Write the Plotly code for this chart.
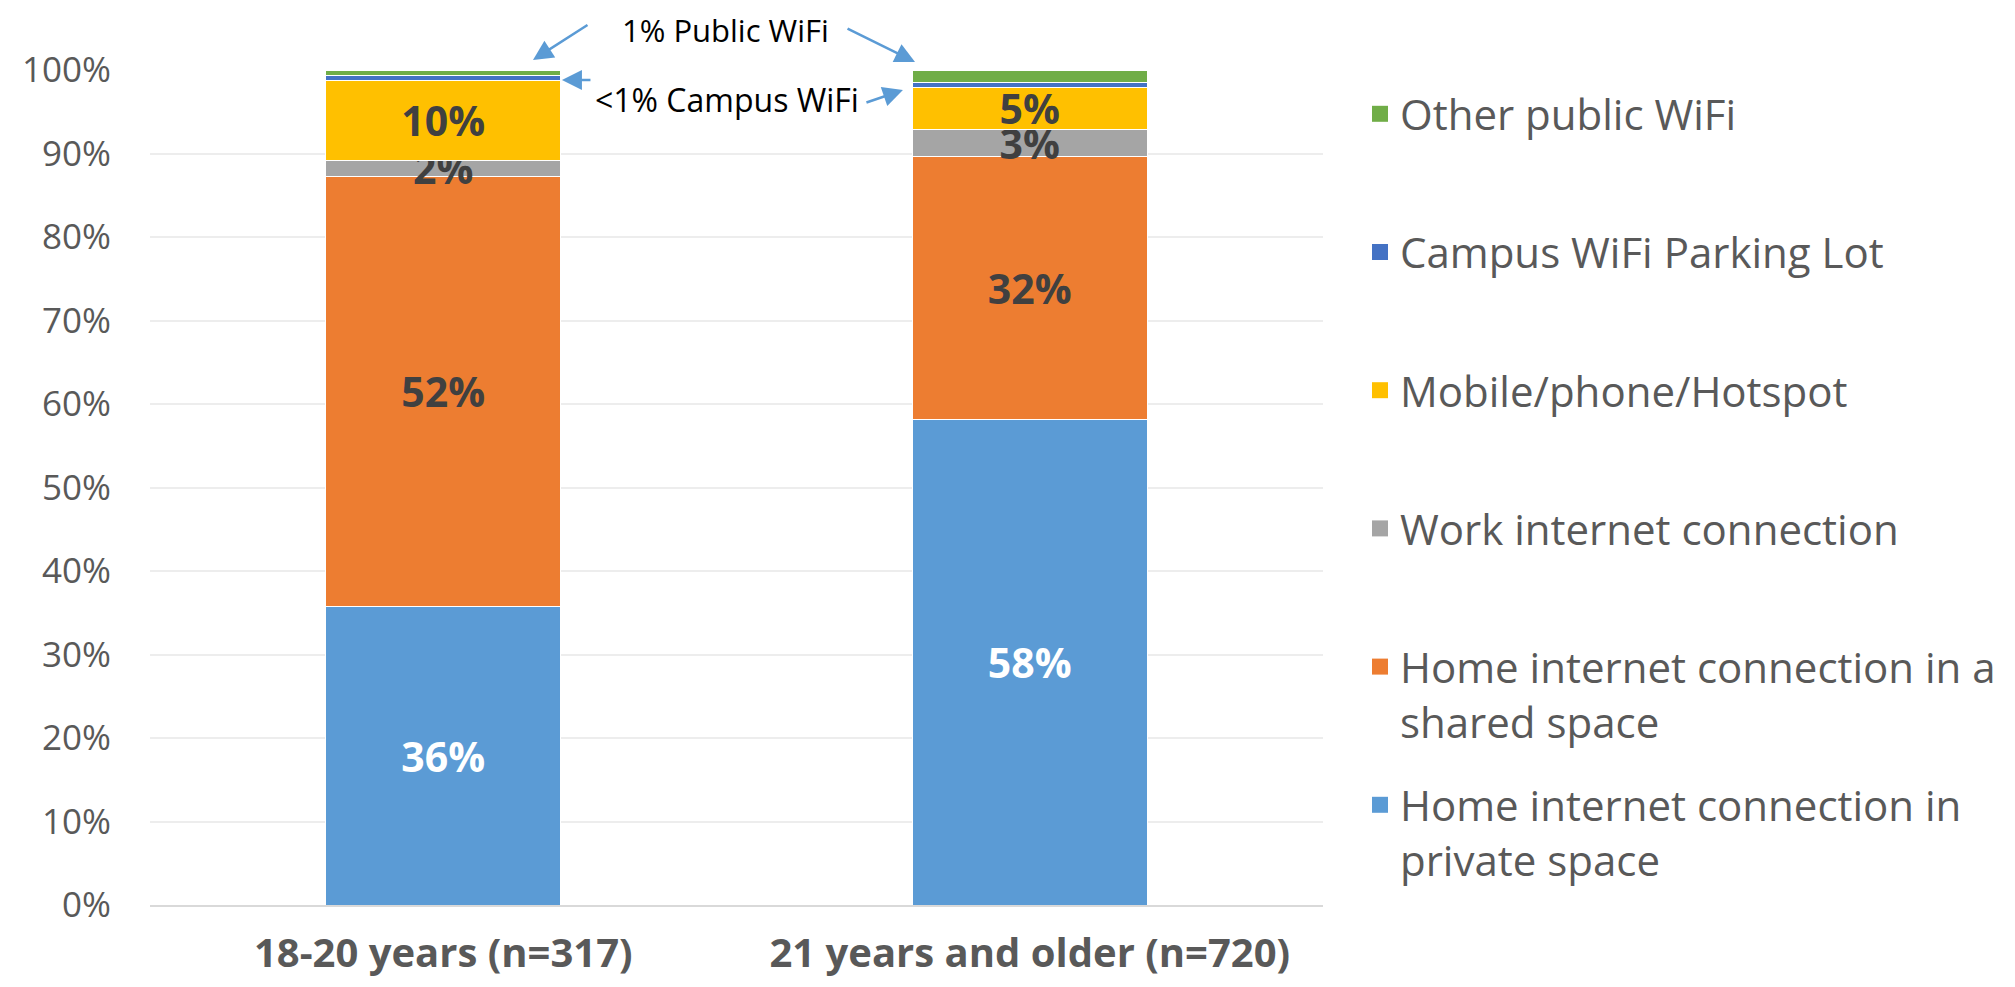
import plotly.graph_objects as go

categories = ["18-20 years (n=317)", "21 years and older (n=720)"]

series_names = [
    "Home internet connection in<br>private space",
    "Home internet connection in a<br>shared space",
    "Work internet connection",
    "Mobile/phone/Hotspot",
    "Campus WiFi Parking Lot",
    "Other public WiFi",
]
home_private = [35.7, 58.1]
home_shared = [51.6, 31.6]
work = [1.9, 3.2]
mobile = [9.6, 5.0]
campus = [0.55, 0.65]
public = [0.65, 1.45]

series_values = [home_private, home_shared, work, mobile, campus, public]
series_colors = ["#5B9BD5", "#ED7D31", "#A5A5A5", "#FFC000", "#4472C4", "#70AD47"]
label_colors = ["#FFFFFF", "#404040", "#404040", "#404040", None, None]

y_ticks = [0, 10, 20, 30, 40, 50, 60, 70, 80, 90, 100]
y_tick_labels = [f"{v}%" for v in y_ticks]

# The page body has an 8px margin: size the figure to fit inside the window.
W, H = 1999, 971

fig = go.Figure()

for name, vals, col, lc in zip(series_names, series_values, series_colors, label_colors):
    if lc is not None:
        kw = dict(
            texttemplate="%{y:.0f}%",
            textposition="inside",
            insidetextanchor="middle",
            textangle=0,
            textfont=dict(family="Open Sans", size=41, color=lc, weight="bold"),
        )
    else:
        kw = dict(texttemplate="", textposition="none")
    fig.add_trace(go.Bar(
        x=categories, y=vals, name=name, legendgroup=name, showlegend=False,
        marker=dict(color=col, line=dict(color="white", width=1)),
        hoverinfo="skip", **kw,
    ))

# legend-only entries (top to bottom order as in the reference)
for name, col in reversed(list(zip(series_names, series_colors))):
    disp = name if "<br>" in name else name + "<br> "
    fig.add_trace(go.Scatter(
        x=[categories[0]], y=[None], mode="markers", name=disp, legendgroup="L" + name,
        marker=dict(symbol="square", size=16, color=col),
        showlegend=True, hoverinfo="skip",
    ))

arrow_color = "#5B9BD5"
def arrow(x, y, ax, ay):
    fig.add_annotation(x=x, y=y, xref="paper", yref="paper", ax=ax, ay=ay, text="",
                       showarrow=True, arrowhead=2, arrowsize=1.6, arrowwidth=2.5,
                       arrowcolor=arrow_color)

arrow(0.3265, 1.012, 56, -36)
arrow(0.6522, 1.0096, -69, -34)
arrow(0.3512, 0.988, 30, 0)
arrow(0.6419, 0.976, -38, 13)

fig.add_annotation(x=0.4902, y=1.0485, xref="paper", yref="paper", text="1% Public WiFi",
                   xanchor="center", yanchor="middle",
                   showarrow=False, font=dict(family="Open Sans", size=31, color="#000000"))
fig.add_annotation(x=0.4919, y=0.9641, xref="paper", yref="paper", text="&lt;1% Campus WiFi",
                   xanchor="center", yanchor="middle",
                   showarrow=False, font=dict(family="Open Sans", size=32, color="#000000"))

fig.update_layout(
    width=W, height=H,
    barmode="stack", bargap=0.6,
    plot_bgcolor="white", paper_bgcolor="white",
    margin=dict(l=142, r=684, t=62, b=74),
    font=dict(family="Open Sans", color="#595959"),
    uniformtext=dict(mode="show", minsize=41),
    showlegend=True,
    legend=dict(
        xref="container", yref="container",
        x=1352 / W, y=1 - 72 / H, xanchor="left", yanchor="top",
        traceorder="grouped", tracegroupgap=26, valign="top",
        font=dict(family="Open Sans", size=42, color="#595959"),
        itemwidth=30, maxheight=1, itemsizing="trace",
    ),
    xaxis=dict(
        type="category", categoryorder="array", categoryarray=categories,
        showgrid=False, showline=True, linecolor="#D9D9D9", linewidth=2,
        ticks="", ticklabelstandoff=12, automargin=False,
        tickfont=dict(family="Open Sans", size=40, color="#595959", weight="bold"),
    ),
    yaxis=dict(
        range=[0, 100], tickvals=y_ticks, ticktext=y_tick_labels,
        showgrid=True, gridcolor="#EDEDED", gridwidth=2, zeroline=False,
        ticks="", ticklabelstandoff=38, automargin=False,
        tickfont=dict(family="Open Sans", size=35, color="#595959"),
    ),
)

fig.write_html("out.html")
